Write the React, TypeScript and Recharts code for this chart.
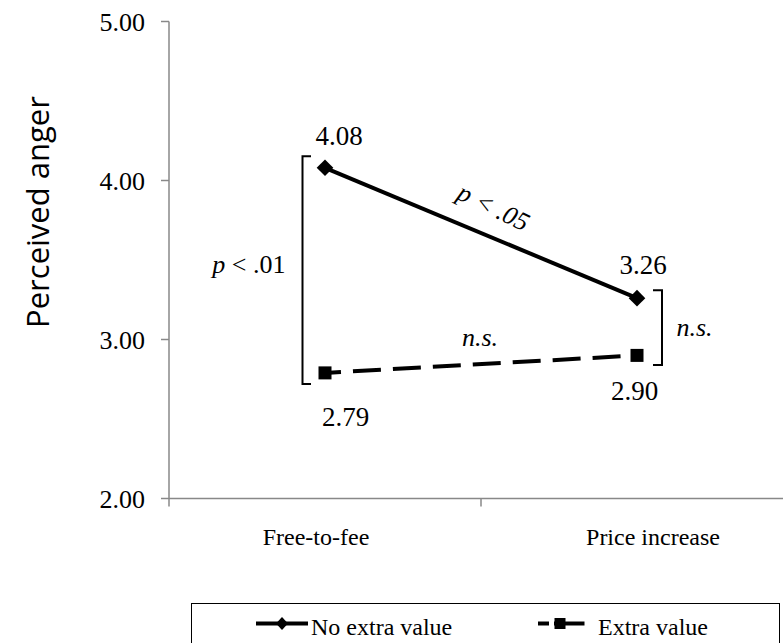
import React from 'react';
import { LineChart, Line, XAxis, YAxis, ReferenceLine, LabelList, Legend } from 'recharts';

const categories = ['Free-to-fee', 'Price increase'];
const noExtraValue = [4.08, 3.26];
const extraValue = [2.79, 2.9];
const yTicks = [2, 3, 4, 5];
const seriesNames = ['No extra value', 'Extra value'];
const annotations = { left: 'p < .01', right: 'n.s.', solid: 'p < .05', dashed: 'n.s.' };

const data = categories.map((c, i) => ({
  pos: i + 0.5,
  category: c,
  noExtra: noExtraValue[i],
  extra: extraValue[i],
}));
const xTicks = [0, 0.5, 1, 1.5, 2];

const SERIF = 'Times New Roman';
const SANS = 'Open Sans';
const AXIS = '#888888';

const catLabelShift = [-9, 16];

const XTick = (props: any) => {
  const { x, y, payload } = props;
  const v = payload.value;
  if (Number.isInteger(v)) {
    return <line x1={x} y1={y} x2={x} y2={y + 8} stroke={AXIS} strokeWidth={1.5} />;
  }
  const idx = Math.floor(v);
  return (
    <text x={x + (catLabelShift[idx] || 0)} y={y + 46.5} textAnchor="middle" fontFamily={SERIF} fontSize={24} fill="#000">
      {categories[idx]}
    </text>
  );
};

const Diamond = (props: any) => {
  const { cx, cy, index } = props;
  if (cx == null || cy == null) return <g key={`d${index}`} />;
  const s = 8.3;
  return <path key={`d${index}`} d={`M${cx},${cy - s}L${cx + s},${cy}L${cx},${cy + s}L${cx - s},${cy}Z`} fill="#000" />;
};

const Square = (props: any) => {
  const { cx, cy, index } = props;
  if (cx == null || cy == null) return <g key={`s${index}`} />;
  const h = 6.5;
  return <rect key={`s${index}`} x={cx - h} y={cy - h} width={2 * h} height={2 * h} fill="#000" />;
};

const noExtraOffsets = [
  [14, -22.6],
  [6, -23.7],
];
const extraOffsets = [
  [20.5, 52.7],
  [-2.5, 45],
];

const makeLabel = (offsets: number[][]) => (props: any) => {
  const { x, y, value, index } = props;
  const [dx, dy] = offsets[index] || [0, 0];
  return (
    <text x={x + dx} y={y + dy} textAnchor="middle" fontFamily={SERIF} fontSize={27} fill="#000">
      {Number(value).toFixed(2)}
    </text>
  );
};

const LeftBracket = (props: any) => {
  const { x1, y1, y2 } = props;
  const top = Math.min(y1, y2) - 11.5;
  const bot = Math.max(y1, y2) + 11;
  const vx = x1 - 22.5;
  const hx = x1 - 14;
  return (
    <g>
      <path d={`M${hx},${top}H${vx}V${bot}H${hx}`} fill="none" stroke="#000" strokeWidth={2} />
      <text x={vx - 17} y={(top + bot) / 2 + 3} textAnchor="end" fontFamily={SERIF} fontSize={26} fill="#000">
        <tspan fontStyle="italic">p</tspan>
        {annotations.left.slice(1)}
      </text>
    </g>
  );
};

const RightBracket = (props: any) => {
  const { x1, y1, y2 } = props;
  const top = Math.min(y1, y2) - 8;
  const bot = Math.max(y1, y2) + 9.5;
  const vx = x1 + 25;
  const hx = x1 + 16;
  return (
    <g>
      <path d={`M${hx},${top}H${vx}V${bot}H${hx}`} fill="none" stroke="#000" strokeWidth={2} />
      <text x={vx + 14.5} y={(top + bot) / 2 + 8} textAnchor="start" fontFamily={SERIF} fontSize={26} fontStyle="italic" fill="#000">
        {annotations.right}
      </text>
    </g>
  );
};

const SlopeText = (props: any) => {
  const { x1, y1, x2, y2 } = props;
  const mx = (x1 + x2) / 2;
  const my = (y1 + y2) / 2;
  return (
    <g transform={`translate(${mx},${my}) rotate(26)`}>
      <text x={0} y={-20} textAnchor="middle" fontFamily={SERIF} fontSize={26} fontStyle="italic" fill="#000">
        {annotations.solid}
      </text>
    </g>
  );
};

const DashText = (props: any) => {
  const { x1, y1, x2, y2 } = props;
  const mx = (x1 + x2) / 2;
  const my = (y1 + y2) / 2;
  return (
    <text x={mx - 1} y={my - 18.6} textAnchor="middle" fontFamily={SERIF} fontSize={26} fontStyle="italic" fill="#000">
      {annotations.dashed}
    </text>
  );
};

const YTitle = () => (
  <text
    x={37}
    y={212}
    transform="rotate(-90, 37, 212)"
    textAnchor="middle"
    dominantBaseline="central"
    fontFamily={SANS}
    fontSize={31}
    fill="#000"
  >
    Perceived anger
  </text>
);

const LegendBox = () => (
  <div
    style={{
      width: 589,
      height: 50,
      boxSizing: 'border-box',
      border: '1.5px solid #000',
      background: '#fff',
      position: 'relative',
    }}
  >
    <svg width={589} height={50} style={{ position: 'absolute', left: -1.5, top: -1.5 }}>
      <line x1={65} y1={20.5} x2={117} y2={20.5} stroke="#000" strokeWidth={4} />
      <path d="M91,14L97,20.5L91,27L85,20.5Z" fill="#000" />
      <text x={120} y={32} fontFamily={SERIF} fontSize={24} fill="#000">
        {seriesNames[0]}
      </text>
      <line x1={347} y1={20.5} x2={358} y2={20.5} stroke="#000" strokeWidth={4} />
      <line x1={363} y1={20.5} x2={393.5} y2={20.5} stroke="#000" strokeWidth={4} />
      <rect x={363.5} y={15} width={11} height={11} fill="#000" />
      <text x={407} y={32} fontFamily={SERIF} fontSize={24} fill="#000">
        {seriesNames[1]}
      </text>
    </svg>
  </div>
);

export default function App() {
  return (
    <div style={{ position: 'absolute', left: 0, top: 0, width: 783, height: 643, overflow: 'hidden', background: '#fff' }}>
      <LineChart width={800} height={643} data={data} margin={{ top: 21.5, right: 7, bottom: 34.5, left: 0 }}>
        <XAxis
          dataKey="pos"
          type="number"
          domain={[0, 2]}
          ticks={xTicks}
          interval={0}
          tick={<XTick />}
          tickLine={false}
          tickSize={0}
          tickMargin={0}
          height={60}
          axisLine={{ stroke: AXIS, strokeWidth: 1.5 }}
          allowDataOverflow
        />
        <YAxis
          type="number"
          domain={[2, 5]}
          ticks={yTicks}
          interval={0}
          width={169}
          tickSize={8}
          tickMargin={16}
          tickFormatter={(v: number) => v.toFixed(2)}
          tick={{ fontFamily: SERIF, fontSize: 26, fill: '#000' }}
          tickLine={{ stroke: AXIS, strokeWidth: 1.5 }}
          axisLine={{ stroke: AXIS, strokeWidth: 1.5 }}
          label={<YTitle />}
        />
        <Legend
          verticalAlign="bottom"
          content={<LegendBox />}
          wrapperStyle={{ position: 'absolute', left: 191, top: 603, bottom: 'auto', width: 589, height: 50 }}
        />
        <Line
          dataKey="noExtra"
          name={seriesNames[0]}
          stroke="#000"
          strokeWidth={4}
          dot={(p: any) => <Diamond {...p} />}
          activeDot={false}
          isAnimationActive={false}
        >
          <LabelList dataKey="noExtra" content={makeLabel(noExtraOffsets)} />
        </Line>
        <Line
          dataKey="extra"
          name={seriesNames[1]}
          stroke="#000"
          strokeWidth={4}
          strokeDasharray="28 12"
          strokeDashoffset={12}
          dot={(p: any) => <Square {...p} />}
          activeDot={false}
          isAnimationActive={false}
        >
          <LabelList dataKey="extra" content={makeLabel(extraOffsets)} />
        </Line>
        <ReferenceLine
          segment={[{ x: data[0].pos, y: noExtraValue[0] }, { x: data[0].pos, y: extraValue[0] }]}
          shape={(p: any) => <LeftBracket {...p} />}
        />
        <ReferenceLine
          segment={[{ x: data[1].pos, y: noExtraValue[1] }, { x: data[1].pos, y: extraValue[1] }]}
          shape={(p: any) => <RightBracket {...p} />}
        />
        <ReferenceLine
          segment={[{ x: data[0].pos, y: noExtraValue[0] }, { x: data[1].pos, y: noExtraValue[1] }]}
          shape={(p: any) => <SlopeText {...p} />}
        />
        <ReferenceLine
          segment={[{ x: data[0].pos, y: extraValue[0] }, { x: data[1].pos, y: extraValue[1] }]}
          shape={(p: any) => <DashText {...p} />}
        />
      </LineChart>
    </div>
  );
}
